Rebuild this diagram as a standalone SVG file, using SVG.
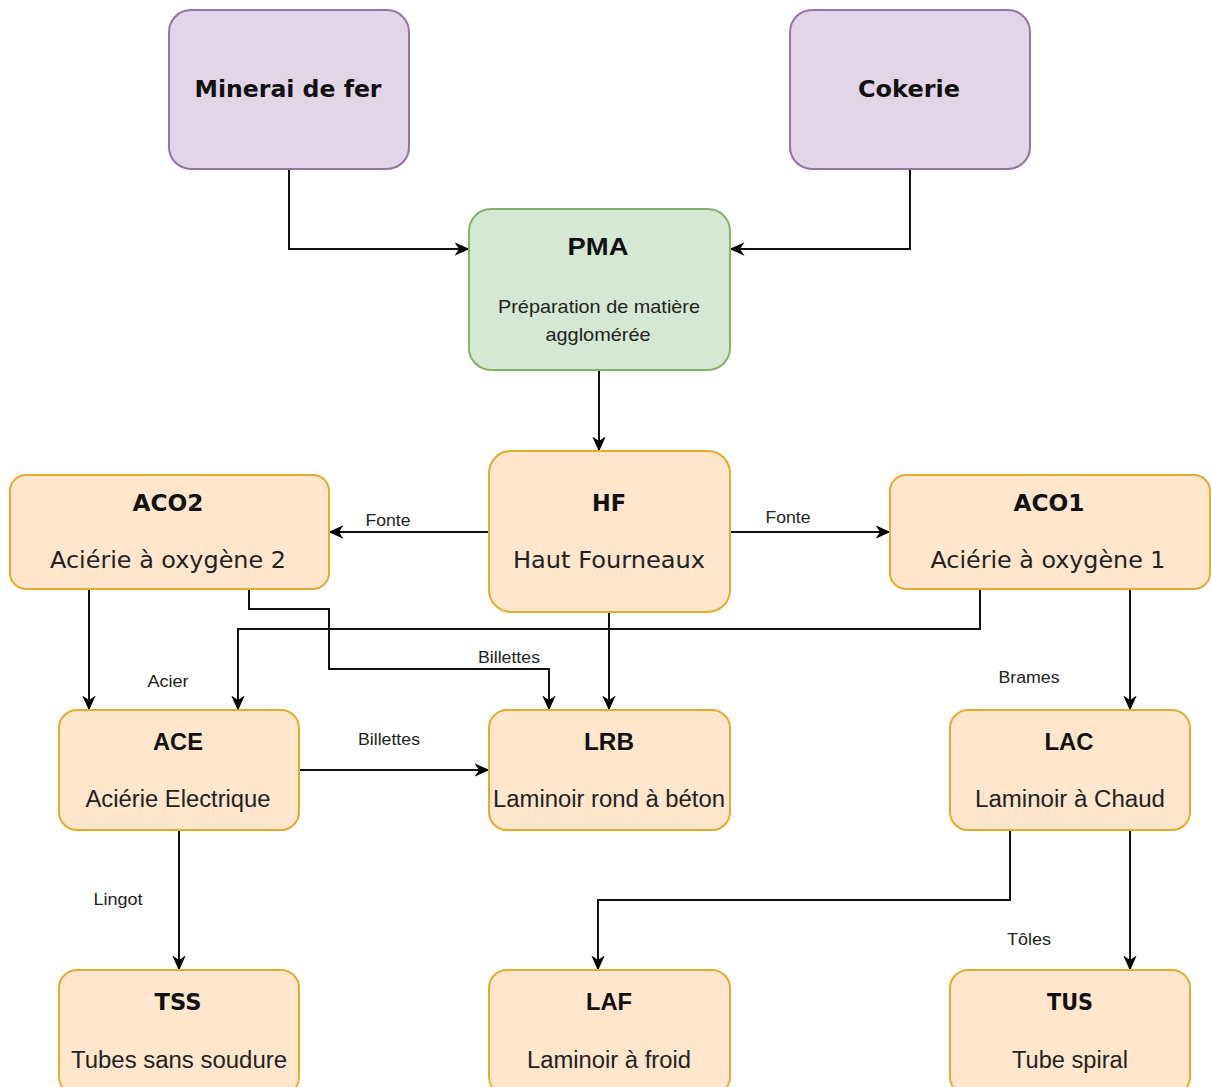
<svg xmlns="http://www.w3.org/2000/svg" width="1211" height="1087" viewBox="0 0 1211 1087">
<defs>
<marker id="arr" viewBox="0 0 10 10" refX="9" refY="5" markerWidth="15" markerHeight="15" markerUnits="userSpaceOnUse" orient="auto">
<path d="M0,0.5 L10,5 L0,9.5 L3,5 Z" fill="#000"/>
</marker>
<style>
.pur{fill:#e1d5e7;stroke:#9673a6;stroke-width:2}
.grn{fill:#d5e8d4;stroke:#82b366;stroke-width:2}
.org{fill:#ffe6cc;stroke:#e6ab2e;stroke-width:2}
.t{font-family:"DejaVu Sans",Verdana,sans-serif;font-weight:bold;font-size:23px;fill:#111;text-anchor:middle}
.ta{font-family:"Liberation Sans",Arial,sans-serif;font-weight:bold;font-size:24px;fill:#111;text-anchor:middle}
.s{font-family:"DejaVu Sans",Verdana,sans-serif;font-size:23px;fill:#222;text-anchor:middle}
.sa{font-family:"Liberation Sans",Arial,sans-serif;font-size:23px;fill:#222;text-anchor:middle}
.sm{font-family:"Liberation Sans",Arial,sans-serif;font-size:19px;fill:#222;text-anchor:middle}
.l{font-family:"Liberation Sans",Arial,sans-serif;font-size:16px;fill:#222;text-anchor:middle}
.c{fill:none;stroke:#111;stroke-width:2;marker-end:url(#arr)}
</style>
</defs>
<rect width="1211" height="1087" fill="#fff"/>
<g id="connectors">
<path class="c" d="M289,169 V249 H468"/>
<path class="c" d="M910,169 V249 H731"/>
<path class="c" d="M599,370 V450"/>
<path class="c" d="M489,532 H330"/>
<text class="l" x="388" y="526" textLength="45" lengthAdjust="spacingAndGlyphs">Fonte</text>
<path class="c" d="M730,532 H889"/>
<text class="l" x="788" y="523" textLength="45" lengthAdjust="spacingAndGlyphs">Fonte</text>
<path class="c" d="M89,589 V709"/>
<path class="c" d="M249,589 V609 H329 V669 H549 V709"/>
<text class="l" x="509" y="663" textLength="62" lengthAdjust="spacingAndGlyphs">Billettes</text>
<path class="c" d="M980,589 V629 H238 V709"/>
<text class="l" x="168" y="687" textLength="41" lengthAdjust="spacingAndGlyphs">Acier</text>
<path class="c" d="M609,612 V709"/>
<path class="c" d="M1130,589 V709"/>
<text class="l" x="1029" y="683" textLength="61" lengthAdjust="spacingAndGlyphs">Brames</text>
<path class="c" d="M299,770 H488"/>
<text class="l" x="389" y="745" textLength="62" lengthAdjust="spacingAndGlyphs">Billettes</text>
<path class="c" d="M179,830 V969"/>
<text class="l" x="118" y="905" textLength="49" lengthAdjust="spacingAndGlyphs">Lingot</text>
<path class="c" d="M1010,830 V900 H598 V969"/>
<path class="c" d="M1130,830 V969"/>
<text class="l" x="1029" y="945" textLength="44" lengthAdjust="spacingAndGlyphs">Tôles</text>
</g>
<g id="minerai">
<rect class="pur" x="169" y="10" width="240" height="159" rx="22"/>
<text class="t" x="288" y="97" textLength="187" lengthAdjust="spacingAndGlyphs">Minerai de fer</text>
</g>
<g id="cokerie">
<rect class="pur" x="790" y="10" width="240" height="159" rx="22"/>
<text class="t" x="909" y="97" textLength="102" lengthAdjust="spacingAndGlyphs">Cokerie</text>
</g>
<g id="pma">
<rect class="grn" x="469" y="209" width="261" height="161" rx="22"/>
<text class="ta" x="598" y="255" textLength="61" lengthAdjust="spacingAndGlyphs">PMA</text>
<text class="sm" x="599" y="313" textLength="202" lengthAdjust="spacingAndGlyphs">Préparation de matière</text>
<text class="sm" x="598" y="341" textLength="105" lengthAdjust="spacingAndGlyphs">agglomérée</text>
</g>
<g id="hf">
<rect class="org" x="489" y="451" width="241" height="161" rx="22"/>
<text class="t" x="609" y="511" textLength="34" lengthAdjust="spacingAndGlyphs">HF</text>
<text class="s" x="609" y="568" textLength="192" lengthAdjust="spacingAndGlyphs">Haut Fourneaux</text>
</g>
<g id="aco2">
<rect class="org" x="10" y="475" width="319" height="114" rx="16"/>
<text class="t" x="168" y="511" textLength="71" lengthAdjust="spacingAndGlyphs">ACO2</text>
<text class="s" x="168" y="568" textLength="236" lengthAdjust="spacingAndGlyphs">Aciérie à oxygène 2</text>
</g>
<g id="aco1">
<rect class="org" x="890" y="475" width="320" height="114" rx="16"/>
<text class="t" x="1049" y="511" textLength="71" lengthAdjust="spacingAndGlyphs">ACO1</text>
<text class="s" x="1048" y="568" textLength="235" lengthAdjust="spacingAndGlyphs">Aciérie à oxygène 1</text>
</g>
<g id="ace">
<rect class="org" x="59" y="710" width="240" height="120" rx="18"/>
<text class="ta" x="178" y="750" textLength="50" lengthAdjust="spacingAndGlyphs">ACE</text>
<text class="sa" x="178" y="807" textLength="185" lengthAdjust="spacingAndGlyphs">Aciérie Electrique</text>
</g>
<g id="lrb">
<rect class="org" x="489" y="710" width="241" height="120" rx="18"/>
<text class="ta" x="609" y="750" textLength="50" lengthAdjust="spacingAndGlyphs">LRB</text>
<text class="sa" x="609" y="807" textLength="232" lengthAdjust="spacingAndGlyphs">Laminoir rond à béton</text>
</g>
<g id="lac">
<rect class="org" x="950" y="710" width="240" height="120" rx="18"/>
<text class="ta" x="1069" y="750" textLength="49" lengthAdjust="spacingAndGlyphs">LAC</text>
<text class="sa" x="1070" y="807" textLength="190" lengthAdjust="spacingAndGlyphs">Laminoir à Chaud</text>
</g>
<g id="tss">
<rect class="org" x="59" y="970" width="240" height="125" rx="18"/>
<text class="t" x="178" y="1010" textLength="47" lengthAdjust="spacingAndGlyphs">TSS</text>
<text class="sa" x="179" y="1068" textLength="216" lengthAdjust="spacingAndGlyphs">Tubes sans soudure</text>
</g>
<g id="laf">
<rect class="org" x="489" y="970" width="241" height="125" rx="18"/>
<text class="ta" x="609" y="1010" textLength="46" lengthAdjust="spacingAndGlyphs">LAF</text>
<text class="sa" x="609" y="1068" textLength="164" lengthAdjust="spacingAndGlyphs">Laminoir à froid</text>
</g>
<g id="tus">
<rect class="org" x="950" y="970" width="240" height="125" rx="18"/>
<text class="t" x="1070" y="1010" textLength="46" lengthAdjust="spacingAndGlyphs">TUS</text>
<text class="sa" x="1070" y="1068" textLength="116" lengthAdjust="spacingAndGlyphs">Tube spiral</text>
</g>
</svg>
